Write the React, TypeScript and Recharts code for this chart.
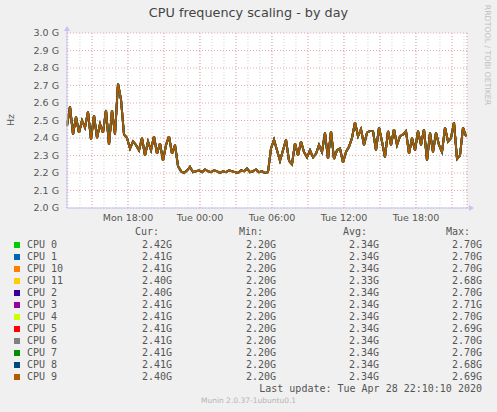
import { LineChart, Line, XAxis, YAxis, CartesianGrid, ReferenceDot } from 'recharts';

// munin "cpu frequency scaling" day graph, 5 min rrd steps, one sample every 15 min here
const sampleStart = 12.917; // hours since Mon 00:00
const sampleStepHours = 0.25;

// frequency trace (GHz); all 12 cores sit on top of each other
const freqTrace = [
  2.47, 2.58, 2.42, 2.52, 2.43, 2.5, 2.46, 2.55, 2.39, 2.53, 2.4, 2.48, 2.43, 2.56, 2.36, 2.56, 2.42, 2.71, 2.62, 2.42,
  2.4, 2.34, 2.38, 2.36, 2.33, 2.4, 2.3, 2.38, 2.33, 2.41, 2.31, 2.37, 2.27, 2.36, 2.41,
  2.31, 2.36, 2.24, 2.21,
  2.2, 2.215, 2.235, 2.205, 2.21, 2.215, 2.205, 2.22, 2.21, 2.205, 2.215, 2.21, 2.2, 2.21, 2.205, 2.215, 2.21, 2.205,
  2.2, 2.215, 2.21, 2.225, 2.205, 2.21, 2.22, 2.205, 2.21, 2.2, 2.205,
  2.34, 2.39, 2.33, 2.27, 2.33, 2.39, 2.27, 2.25, 2.37, 2.3, 2.38, 2.32, 2.29, 2.33, 2.29, 2.31, 2.36, 2.32, 2.43, 2.28,
  2.44, 2.28, 2.33, 2.34, 2.26, 2.32, 2.35, 2.4, 2.49, 2.41, 2.45, 2.36, 2.43, 2.44,
  2.44, 2.33, 2.46, 2.38, 2.29, 2.44, 2.36, 2.45, 2.36, 2.41, 2.42, 2.44, 2.31, 2.4, 2.33, 2.44, 2.36, 2.45, 2.27, 2.43,
  2.32, 2.43, 2.36, 2.32, 2.46, 2.38, 2.4, 2.49, 2.28, 2.3, 2.46, 2.41,
];

const cpuLabels = ['CPU 0', 'CPU 1', 'CPU 10', 'CPU 11', 'CPU 2', 'CPU 3', 'CPU 4', 'CPU 5', 'CPU 6', 'CPU 7', 'CPU 8', 'CPU 9'];
const cpuColors = ['#00CC00', '#0066B3', '#FF8000', '#FFCC00', '#330099', '#990099', '#CCFF00', '#FF0000', '#808080', '#008F00', '#00487D', '#B35A00'];
const curValues = ['2.42G', '2.41G', '2.41G', '2.40G', '2.40G', '2.41G', '2.41G', '2.41G', '2.41G', '2.41G', '2.41G', '2.40G'];
const minValues = ['2.20G', '2.20G', '2.20G', '2.20G', '2.20G', '2.20G', '2.20G', '2.20G', '2.20G', '2.20G', '2.20G', '2.20G'];
const avgValues = ['2.34G', '2.34G', '2.34G', '2.33G', '2.34G', '2.34G', '2.34G', '2.34G', '2.34G', '2.34G', '2.34G', '2.34G'];
const maxValues = ['2.70G', '2.70G', '2.70G', '2.68G', '2.70G', '2.71G', '2.70G', '2.69G', '2.70G', '2.70G', '2.68G', '2.69G'];

const yTicks = [2.0, 2.1, 2.2, 2.3, 2.4, 2.5, 2.6, 2.7, 2.8, 2.9, 3.0];
const labelTicks = [18, 24, 30, 36, 42];
const labelTexts = ['Mon 18:00', 'Tue 00:00', 'Tue 06:00', 'Tue 12:00', 'Tue 18:00'];
const majorTicks = [15, 18, 21, 24, 27, 30, 33, 36, 39, 42, 45];
const minorTicks = [13, 14, 15, 16, 17, 18, 19, 20, 21, 22, 23, 24, 25, 26, 27, 28, 29, 30, 31, 32, 33, 34, 35, 36, 37, 38, 39, 40, 41, 42, 43, 44, 45, 46];
const timeDomain = [12.917, 46.25];

const chartData = freqTrace.map((hz, i) => ({ t: sampleStart + i * sampleStepHours, hz }));

const AXIS = '#c4c4f0';
const TEXT = '#555';
const SANS = '"DejaVu Sans", sans-serif';
const MONO = '"DejaVu Sans Mono", monospace';

// lines drawn first are a hair wider so the cores underneath tint the edges
const lineWidths = [2.0, 2.0, 2.0, 1.9, 1.9, 1.9, 1.9, 1.8, 1.8, 1.8, 1.8, 1.6];

const ArrowRight = (props: any) => {
  const { cx, cy } = props;
  return (
    <g>
      <line x1={cx} y1={cy} x2={cx + 4} y2={cy} stroke={AXIS} />
      <path d={`M${cx + 2},${cy - 3}L${cx + 7},${cy}L${cx + 2},${cy + 3}Z`} fill={AXIS} />
    </g>
  );
};

const ArrowUp = (props: any) => {
  const { cx, cy } = props;
  return (
    <g>
      <line x1={cx} y1={cy} x2={cx} y2={cy - 4} stroke={AXIS} />
      <path d={`M${cx - 3},${cy - 2}L${cx},${cy - 7}L${cx + 3},${cy - 2}Z`} fill={AXIS} />
    </g>
  );
};

const rowTop = (k: number) => 239 + k * 12;

export default function App() {
  return (
    <div style={{ position: 'absolute', left: 0, top: 0, width: 497, height: 412, background: '#f0f0f0', fontFamily: SANS, overflow: 'hidden' }}>
      <div style={{ position: 'absolute', left: 0, width: 497, top: 5, textAlign: 'center', fontSize: 12.8, color: '#444', lineHeight: '16px' }}>
        CPU frequency scaling - by day
      </div>
      <div style={{ position: 'absolute', left: 10, top: 120, transform: 'translate(-50%,-50%) rotate(-90deg)', fontSize: 9.5, color: TEXT }}>
        Hz
      </div>
      <div style={{ position: 'absolute', left: 487, top: 55, transform: 'translate(-50%,-50%) rotate(90deg)', fontSize: 7.8, color: '#c0c0c0', whiteSpace: 'nowrap' }}>
        RRDTOOL / TOBI OETIKER
      </div>

      <div style={{ position: 'absolute', left: 0, top: 0 }}>
        <LineChart width={497} height={230} data={chartData} margin={{ top: 33, right: 30, left: 0, bottom: 0 }}>
          <XAxis
            xAxisId="time"
            dataKey="t"
            type="number"
            domain={timeDomain}
            ticks={labelTicks}
            interval={0}
            height={22}
            tickSize={0}
            tickMargin={6}
            tickFormatter={(v: number) => labelTexts[labelTicks.indexOf(v)]}
            tick={{ fill: TEXT, fontSize: 9.5, fontFamily: SANS }}
            stroke={AXIS}
          />
          <XAxis xAxisId="minor" dataKey="t" type="number" domain={timeDomain} ticks={minorTicks} interval={0} height={0} hide />
          <XAxis xAxisId="major" dataKey="t" type="number" domain={timeDomain} ticks={majorTicks} interval={0} height={0} hide />
          <CartesianGrid xAxisId="minor" horizontal={false} fill="#ffffff" stroke="#d4d4d4" strokeDasharray="1 2" />
          <CartesianGrid xAxisId="major" stroke="#eaa8a8" strokeDasharray="1 2" />
          <YAxis
            type="number"
            domain={[2.0, 3.0]}
            ticks={yTicks}
            interval={0}
            width={67}
            tickSize={0}
            tickMargin={8}
            tickFormatter={(v: number) => `${v.toFixed(1)} G`}
            tick={{ fill: TEXT, fontSize: 9.5, fontFamily: SANS }}
            stroke={AXIS}
          />
          {cpuLabels.map((name, i) => (
            <Line
              key={name}
              xAxisId="time"
              dataKey="hz"
              name={name}
              type="linear"
              stroke={cpuColors[i]}
              strokeWidth={lineWidths[i]}
              dot={false}
              isAnimationActive={false}
            />
          ))}
          <ReferenceDot xAxisId="time" x={timeDomain[1]} y={2.0} ifOverflow="visible" shape={ArrowRight} />
          <ReferenceDot xAxisId="time" x={timeDomain[0]} y={3.0} ifOverflow="visible" shape={ArrowUp} />
        </LineChart>
      </div>

      <div style={{ fontFamily: MONO, fontSize: 10, color: TEXT, lineHeight: '12px' }}>
        {['Cur:', 'Min:', 'Avg:', 'Max:'].map((h, j) => (
          <div key={h} style={{ position: 'absolute', top: 226, right: 497 - [159, 263, 367, 470][j] }}>{h}</div>
        ))}
        {cpuLabels.map((name, k) => (
          <div key={name}>
            <div style={{ position: 'absolute', left: 14, top: rowTop(k) + 3, width: 6, height: 6, background: cpuColors[k] }} />
            <div style={{ position: 'absolute', left: 27, top: rowTop(k) }}>{name}</div>
            <div style={{ position: 'absolute', right: 497 - 172, top: rowTop(k) }}>{curValues[k]}</div>
            <div style={{ position: 'absolute', right: 497 - 276, top: rowTop(k) }}>{minValues[k]}</div>
            <div style={{ position: 'absolute', right: 497 - 379, top: rowTop(k) }}>{avgValues[k]}</div>
            <div style={{ position: 'absolute', right: 497 - 482, top: rowTop(k) }}>{maxValues[k]}</div>
          </div>
        ))}
        <div style={{ position: 'absolute', right: 497 - 482, top: 383, whiteSpace: 'pre' }}>Last update: Tue Apr 28 22:10:10 2020</div>
      </div>
      <div style={{ position: 'absolute', left: 0, width: 497, top: 396, textAlign: 'center', fontSize: 7.5, color: '#b4b4b4' }}>
        Munin 2.0.37-1ubuntu0.1
      </div>
    </div>
  );
}
